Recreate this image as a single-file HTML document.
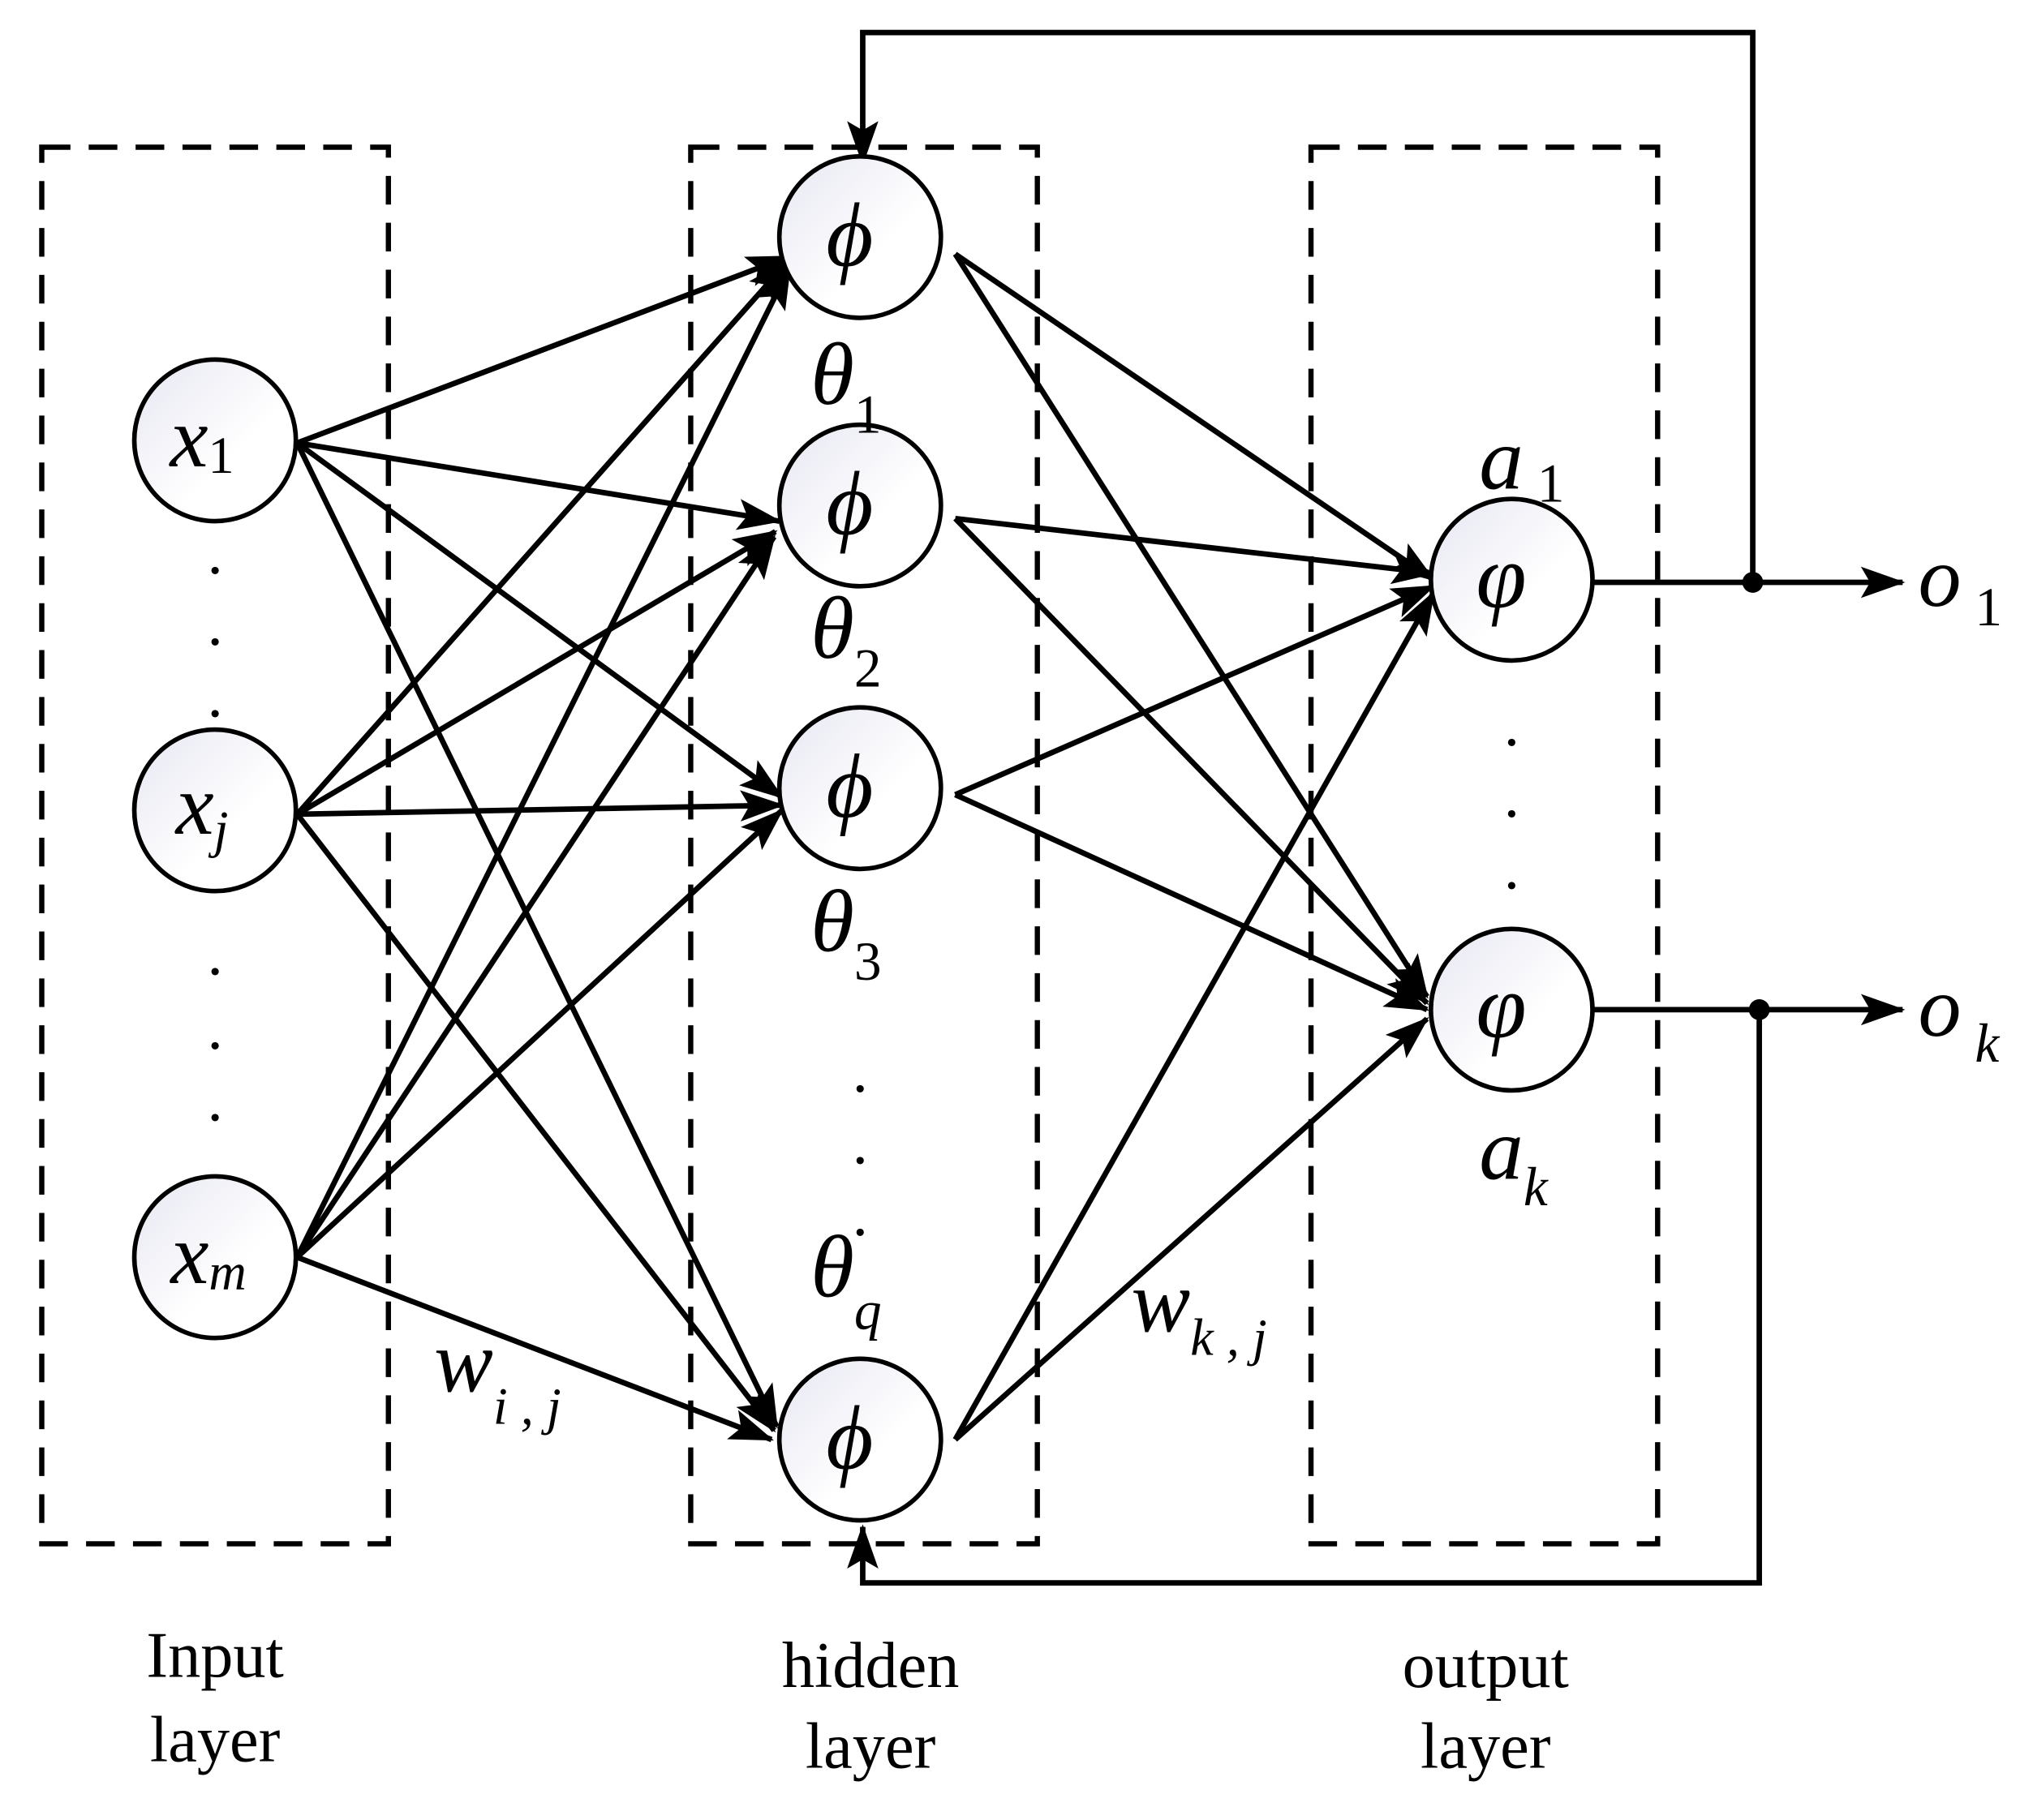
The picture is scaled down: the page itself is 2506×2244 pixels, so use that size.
<!DOCTYPE html>
<html><head><meta charset="utf-8"><style>html,body{margin:0;padding:0;background:#fff}svg{display:block}</style></head>
<body>
<svg width="2506" height="2244" viewBox="0 0 1560 1397" xmlns="http://www.w3.org/2000/svg" font-family="Liberation Serif, serif">
<defs>
<marker id="a" markerUnits="userSpaceOnUse" markerWidth="36" markerHeight="30" refX="32" refY="12" orient="auto"><path d="M0,0 L34,12 L0,24 L7,12 Z" fill="#000"/></marker>
<linearGradient id="g" x1="0" y1="0" x2="1" y2="1"><stop offset="0" stop-color="#e6e6f2"/><stop offset="0.6" stop-color="#fff"/></linearGradient>
</defs>
<g fill="none" stroke="#000" stroke-width="4" stroke-dasharray="22,14">
<rect x="32" y="113" width="266" height="1072"/>
<rect x="530" y="113" width="266" height="1072"/>
<rect x="1006" y="113" width="266" height="1072"/>
</g>
<g stroke="#000" stroke-width="4.2" fill="none" marker-end="url(#a)">
<line x1="228" y1="340" x2="605" y2="197"/>
<line x1="228" y1="340" x2="598" y2="400"/>
<line x1="228" y1="340" x2="600" y2="612"/>
<line x1="228" y1="340" x2="596" y2="1095"/>
<line x1="228" y1="625" x2="605" y2="200"/>
<line x1="228" y1="625" x2="595" y2="408"/>
<line x1="228" y1="625" x2="600" y2="618"/>
<line x1="228" y1="625" x2="594" y2="1098"/>
<line x1="228" y1="965" x2="606" y2="205"/>
<line x1="228" y1="965" x2="594" y2="412"/>
<line x1="228" y1="965" x2="600" y2="622"/>
<line x1="228" y1="965" x2="592" y2="1105"/>
<line x1="733" y1="195" x2="1100" y2="445"/>
<line x1="733" y1="195" x2="1095" y2="765"/>
<line x1="733" y1="398" x2="1100" y2="440"/>
<line x1="733" y1="398" x2="1095" y2="770"/>
<line x1="733" y1="610" x2="1100" y2="450"/>
<line x1="733" y1="610" x2="1095" y2="775"/>
<line x1="733" y1="1105" x2="1100" y2="455"/>
<line x1="733" y1="1105" x2="1095" y2="782"/>
<line x1="1222" y1="447" x2="1460" y2="447"/>
<line x1="1222" y1="775" x2="1460" y2="775"/>
<polyline points="1345,447 1345,25 662,25 662,125"/>
<polyline points="1350,775 1350,1215 662,1215 662,1172"/>
</g>
<circle cx="1345" cy="447" r="8"/><circle cx="1350" cy="775" r="8"/>
<g stroke="#000" stroke-width="3.5" fill="url(#g)">
<circle cx="165" cy="338" r="62"/><circle cx="165" cy="622" r="62"/><circle cx="165" cy="965" r="62"/>
<circle cx="660" cy="182" r="62"/><circle cx="660" cy="388" r="62"/><circle cx="660" cy="605" r="62"/><circle cx="660" cy="1105" r="62"/>
<circle cx="1160" cy="445" r="62"/><circle cx="1160" cy="775" r="62"/>
</g>
<g font-style="italic" font-size="66" text-anchor="middle">
<text x="155" y="358">x<tspan font-size="40" font-style="normal" dy="5">1</tspan></text>
<text x="155" y="640">x<tspan font-size="40" dy="10">j</tspan></text>
<text x="160" y="985">x<tspan font-size="40" dy="5">m</tspan></text>
</g>
<g font-style="italic" font-size="70" text-anchor="middle">
<text x="652" y="204">ϕ</text><text x="652" y="410">ϕ</text><text x="652" y="627">ϕ</text><text x="652" y="1127">ϕ</text>
<text x="1152" y="466">φ</text><text x="1152" y="796">φ</text>
</g>
<g font-style="italic" font-size="68">
<text x="622" y="310">θ<tspan font-size="42" font-style="normal" dy="22">1</tspan></text>
<text x="622" y="505">θ<tspan font-size="42" font-style="normal" dy="22">2</tspan></text>
<text x="622" y="730">θ<tspan font-size="42" font-style="normal" dy="22">3</tspan></text>
<text x="622" y="995">θ<tspan font-size="42" dy="25">q</tspan></text>
<text x="1135" y="375">a<tspan font-size="42" font-style="normal" dy="10"> 1</tspan></text>
<text x="1135" y="905">a<tspan font-size="42" dy="20">k</tspan></text>
<text x="333" y="1068">w<tspan font-size="40" dy="25">i , j</tspan></text>
<text x="868" y="1022">w<tspan font-size="40" dy="18">k , j</tspan></text>
</g>
<g font-style="italic" font-size="66">
<text x="1472" y="465">o<tspan font-size="42" font-style="normal" dy="15"> 1</tspan></text>
<text x="1472" y="795">o<tspan font-size="42" dy="20"> k</tspan></text>
</g>
<g font-size="48" text-anchor="middle">
<text x="165" y="440">.</text><text x="165" y="495">.</text><text x="165" y="550">.</text>
<text x="165" y="748">.</text><text x="165" y="805">.</text><text x="165" y="860">.</text>
<text x="660" y="838">.</text><text x="660" y="893">.</text><text x="660" y="948">.</text>
<text x="1160" y="572">.</text><text x="1160" y="627">.</text><text x="1160" y="682">.</text>
</g>
<g font-size="50" text-anchor="middle">
<text x="165" y="1287">Input</text><text x="165" y="1352">layer</text>
<text x="668" y="1295">hidden</text><text x="668" y="1357">layer</text>
<text x="1140" y="1295">output</text><text x="1140" y="1357">layer</text>
</g>
</svg>
</body></html>
